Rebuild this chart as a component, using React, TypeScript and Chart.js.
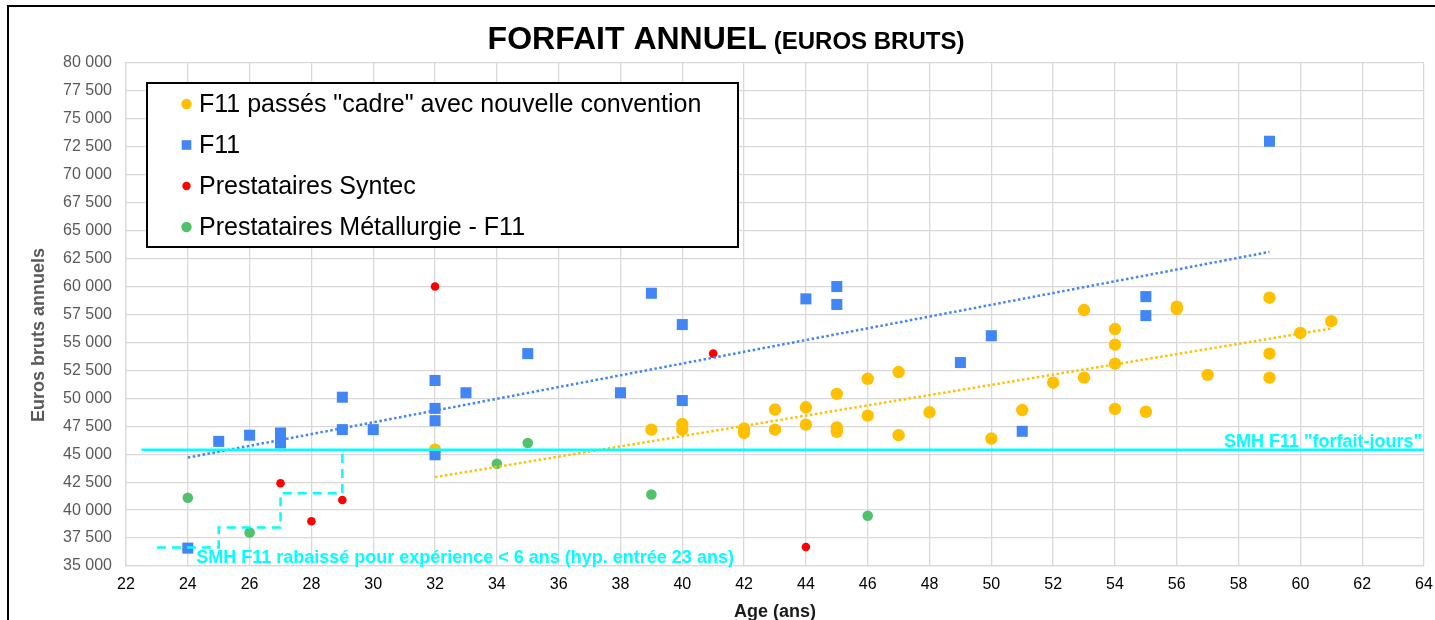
import React, { useEffect, useRef } from "react";
import { Chart, registerables } from "chart.js";

Chart.register(...registerables);

// ---- Data ----
const cadreLabel = 'F11 passés "cadre" avec nouvelle convention';
const cadreAges = [32, 39, 40, 40, 42, 42, 43, 43, 44, 44, 45, 45, 45, 46, 46, 47, 47, 48, 50, 51, 52, 53, 53, 54, 54, 54, 54, 55, 56, 56, 57, 59, 59, 59, 60, 61];
const cadreSalaires = [45400, 47200, 47700, 47200, 47300, 46900, 49000, 47200, 49200, 47650, 50400, 47400, 47000, 51750, 48450, 52350, 46700, 48750, 46400, 48950, 51400, 57900, 51850, 56200, 54800, 53100, 49050, 48800, 58200, 58000, 52100, 59000, 54000, 51850, 55850, 56900];

const f11Label = "F11";
const f11Ages = [24, 25, 26, 27, 27, 29, 29, 30, 32, 32, 32, 32, 33, 35, 38, 39, 40, 40, 44, 45, 45, 49, 50, 51, 55, 55, 59];
const f11Salaires = [36600, 46150, 46700, 46900, 46000, 50100, 47200, 47200, 51600, 49100, 48000, 44950, 50500, 54000, 50500, 59400, 56600, 49800, 58900, 60000, 58400, 53200, 55600, 47050, 59100, 57400, 73000];

const syntecLabel = "Prestataires Syntec";
const syntecAges = [27, 28, 29, 32, 41, 44];
const syntecSalaires = [42400, 39000, 40900, 60000, 54000, 36700];

const metalLabel = "Prestataires Métallurgie - F11";
const metalAges = [24, 26, 34, 35, 39, 46];
const metalSalaires = [41100, 38000, 44150, 46000, 41400, 39500];

// trend lines (end points)
const trendF11Ages = [24, 59];
const trendF11Salaires = [44700, 63100];
const trendCadreAges = [32, 61];
const trendCadreSalaires = [42950, 56250];

// SMH reference lines
const smhAges = [22.5, 64];
const smhSalaires = [45400, 45400];
const smhStepAges = [23, 25, 25, 27, 27, 29, 29];
const smhStepSalaires = [36650, 36650, 38450, 38450, 41500, 41500, 45400];

const yTicks = [35000, 37500, 40000, 42500, 45000, 47500, 50000, 52500, 55000, 57500, 60000, 62500, 65000, 67500, 70000, 72500, 75000, 77500, 80000];
const xTicks = [22, 24, 26, 28, 30, 32, 34, 36, 38, 40, 42, 44, 46, 48, 50, 52, 54, 56, 58, 60, 62, 64];

const titleMain = "FORFAIT ANNUEL";
const titleSub = "(EUROS BRUTS)";
const xTitle = "Age (ans)";
const yTitle = "Euros bruts annuels";
const annotLow = "SMH F11 rabaissé pour expérience < 6 ans (hyp. entrée 23 ans)";
const annotSmh = 'SMH F11 "forfait-jours"';

const YELLOW = "#FFC000";
const BLUE = "#4285F4";
const RED = "#FF0000";
const GREEN = "#52C16C";
const CYAN = "#00FFFF";
const FONT = '"Liberation Sans", Arial, sans-serif';

const zip = (xs: number[], ys: number[]) => xs.map((x, i) => ({ x, y: ys[i] }));
const fmt = (v: number) => String(v).replace(/\B(?=(\d{3})+(?!\d))/g, " ");

const CW = 1435;
const CH = 640;

export default function App() {
  const ref = useRef<HTMLCanvasElement | null>(null);

  useEffect(() => {
    if (!ref.current) return;

    const legendItems = [
      { label: cadreLabel, color: YELLOW, shape: "circle", r: 5.2 },
      { label: f11Label, color: BLUE, shape: "rect", r: 4.8 },
      { label: syntecLabel, color: RED, shape: "circle", r: 4.2 },
      { label: metalLabel, color: GREEN, shape: "circle", r: 5.2 },
    ];

    const overlay = {
      id: "overlay",
      afterDatasetsDraw(chart: any) {
        const { ctx, chartArea: ca, scales } = chart;
        const xs = scales.x;
        const ys = scales.y;
        ctx.save();
        // annotations
        ctx.fillStyle = CYAN;
        ctx.font = `bold 18px ${FONT}`;
        ctx.textBaseline = "alphabetic";
        ctx.textAlign = "left";
        ctx.fillText(annotLow, xs.getPixelForValue(24.27), ca.bottom - 3);
        ctx.textAlign = "right";
        ctx.fillText(annotSmh, ca.right - 2, ys.getPixelForValue(smhSalaires[0]) - 3);

        // legend box
        const lx = 147, ly = 83, lw = 591, lh = 164;
        ctx.fillStyle = "#ffffff";
        ctx.fillRect(lx, ly, lw, lh);
        ctx.strokeStyle = "#000000";
        ctx.lineWidth = 2;
        ctx.strokeRect(lx, ly, lw, lh);
        ctx.font = `25px ${FONT}`;
        ctx.textAlign = "left";
        ctx.textBaseline = "middle";
        legendItems.forEach((it, i) => {
          const cy = 104 + i * 41;
          const cx = 186.5;
          ctx.fillStyle = it.color;
          if (it.shape === "rect") {
            ctx.fillRect(cx - it.r, cy - it.r, it.r * 2, it.r * 2);
          } else {
            ctx.beginPath();
            ctx.arc(cx, cy, it.r, 0, Math.PI * 2);
            ctx.fill();
          }
          ctx.fillStyle = "#000000";
          ctx.fillText(it.label, 199, cy + 1);
        });
        ctx.restore();
      },
      afterDraw(chart: any) {
        const { ctx, chartArea: ca } = chart;
        ctx.save();
        // main title
        ctx.fillStyle = "#000000";
        ctx.textBaseline = "alphabetic";
        ctx.textAlign = "left";
        ctx.font = `bold 32px ${FONT}`;
        const wMain = ctx.measureText(titleMain).width;
        ctx.font = `bold 24px ${FONT}`;
        const wSpace = 7;
        const wSub = ctx.measureText(titleSub).width;
        const total = wMain + wSpace + wSub;
        const x0 = 726 - total / 2;
        const base = 49;
        ctx.font = `bold 32px ${FONT}`;
        ctx.fillText(titleMain, x0, base);
        ctx.font = `bold 24px ${FONT}`;
        ctx.fillText(titleSub, x0 + wMain + wSpace, base);

        // axis titles
        ctx.font = `bold 18px ${FONT}`;
        ctx.textAlign = "center";
        ctx.fillStyle = "#1a1a1a";
        ctx.fillText(xTitle, (ca.left + ca.right) / 2, 617);
        ctx.save();
        ctx.translate(44, 335);
        ctx.rotate(-Math.PI / 2);
        ctx.fillStyle = "#595959";
        ctx.fillText(yTitle, 0, 0);
        ctx.restore();
        ctx.restore();
      },
    };

    const chart = new Chart(ref.current, {
      type: "scatter",
      data: {
        datasets: [
          {
            label: "SMH",
            data: zip(smhAges, smhSalaires),
            showLine: true,
            borderColor: CYAN,
            borderWidth: 2.5,
            pointRadius: 0,
            order: 0,
          },
          {
            label: "SMH rabaissé",
            data: zip(smhStepAges, smhStepSalaires),
            showLine: true,
            borderColor: CYAN,
            borderWidth: 2.5,
            borderDash: [9, 6],
            pointRadius: 0,
            order: 0,
          },
          {
            label: "Tendance F11",
            data: zip(trendF11Ages, trendF11Salaires),
            showLine: true,
            borderColor: BLUE,
            borderWidth: 2.5,
            borderDash: [2.5, 2.5],
            pointRadius: 0,
            order: 1,
          },
          {
            label: "Tendance cadre",
            data: zip(trendCadreAges, trendCadreSalaires),
            showLine: true,
            borderColor: YELLOW,
            borderWidth: 2.5,
            borderDash: [2.5, 2.5],
            pointRadius: 0,
            order: 1,
          },
          {
            label: syntecLabel,
            data: zip(syntecAges, syntecSalaires),
            backgroundColor: RED,
            borderColor: RED,
            borderWidth: 0,
            pointRadius: 4.3,
            order: 2,
          },
          {
            label: metalLabel,
            data: zip(metalAges, metalSalaires),
            backgroundColor: GREEN,
            borderColor: GREEN,
            borderWidth: 0,
            pointRadius: 5.3,
            order: 3,
          },
          {
            label: f11Label,
            data: zip(f11Ages, f11Salaires),
            backgroundColor: BLUE,
            borderColor: BLUE,
            borderWidth: 0,
            pointStyle: "rect",
            pointRadius: 7.8,
            order: 4,
          },
          {
            label: cadreLabel,
            data: zip(cadreAges, cadreSalaires),
            backgroundColor: YELLOW,
            borderColor: YELLOW,
            borderWidth: 0,
            pointRadius: 6.2,
            order: 5,
          },
        ],
      },
      options: {
        responsive: false,
        animation: false,
        devicePixelRatio: 1,
        layout: { padding: { top: 63, right: 11, bottom: 0, left: 0 } },
        plugins: {
          legend: { display: false },
          title: { display: false },
          tooltip: { enabled: false },
        },
        scales: {
          x: {
            type: "linear",
            min: 22,
            max: 64,
            afterBuildTicks: (scale: any) => {
              scale.ticks = xTicks.map((v) => ({ value: v }));
            },
            afterFit: (scale: any) => {
              scale.height = CH - 566;
              scale.paddingRight = 0;
              scale.paddingLeft = 0;
            },
            ticks: {
              autoSkip: false,
              maxRotation: 0,
              padding: 9,
              color: "#000000",
              font: { family: FONT, size: 16 },
            },
            grid: { color: "#d9d9d9", lineWidth: 1.3, drawTicks: false },
            border: { color: "#d9d9d9", width: 1.3 },
          },
          y: {
            type: "linear",
            min: 35000,
            max: 80000,
            afterBuildTicks: (scale: any) => {
              scale.ticks = yTicks.map((v) => ({ value: v }));
            },
            afterFit: (scale: any) => {
              scale.width = 126;
            },
            ticks: {
              autoSkip: false,
              padding: 14,
              color: "#595959",
              font: { family: FONT, size: 16 },
              callback: (v: any) => fmt(Number(v)),
            },
            grid: { color: "#d9d9d9", lineWidth: 1.3, drawTicks: false },
            border: { color: "#d9d9d9", width: 1.3 },
          },
        },
      },
      plugins: [overlay],
    } as any);

    return () => chart.destroy();
  }, []);

  return (
    <div
      style={{
        position: "fixed",
        left: 0,
        top: 0,
        width: 1435,
        height: 620,
        overflow: "hidden",
        background: "#ffffff",
      }}
    >
      <div
        style={{
          position: "absolute",
          left: 7,
          top: 5,
          width: 1500,
          height: 700,
          border: "2px solid #000",
          boxSizing: "border-box",
        }}
      />
      <canvas
        ref={ref}
        width={CW}
        height={CH}
        style={{ position: "absolute", left: 0, top: 0, width: CW, height: CH }}
      />
    </div>
  );
}
